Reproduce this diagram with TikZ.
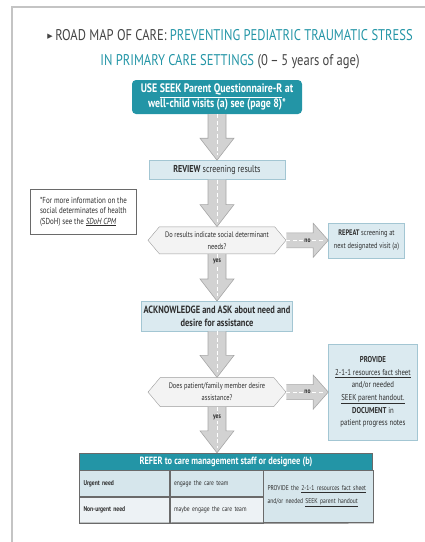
\documentclass[tikz,border=0pt]{standalone}
\usepackage{fontspec}
\setmainfont{PT Sans}[FakeStretch=0.8]
\newfontfamily\titlefont{PT Sans}[FakeStretch=0.81]
\newfontfamily\symfont{DejaVu Sans}
\usepackage{tikz}
\usetikzlibrary{shapes,positioning,calc}

\definecolor{teal1}{HTML}{2395A6}
\definecolor{titlegray}{HTML}{444444}
\definecolor{textgray}{HTML}{2E2E2E}
\definecolor{boxfill}{HTML}{DBEAF0}
\definecolor{boxline}{HTML}{A3C6D3}
\definecolor{arrowfill}{HTML}{D2D2D2}
\definecolor{arrowline}{HTML}{A6A6A6}
\definecolor{hexfill}{HTML}{F3F3F3}
\definecolor{hexline}{HTML}{9C9C9C}
\definecolor{framegray}{HTML}{C4C4C4}
\definecolor{cellblue}{HTML}{D6E6EC}
\definecolor{celllight}{HTML}{EDF2F5}
\definecolor{tabline}{HTML}{6A6A6A}

% block arrow downwards, from a node to the node below
\newcommand{\downblock}[2]{%
  \coordinate (ds) at (#1.south);
  \coordinate (dt) at (#1.south |- #2.north);
  \filldraw[blockarrow] ($(ds)+(-9,0)$) -- ($(dt)+(-9,22)$) -- ($(dt)+(-17,22)$) -- (dt)
    -- ($(dt)+(17,22)$) -- ($(dt)+(9,22)$) -- ($(ds)+(9,0)$);
  \draw[midline] (ds) -- ($(dt)+(0,5)$);
}
% block arrow to the right
\newcommand{\rightblock}[2]{%
  \coordinate (rs) at (#1.east);
  \coordinate (rt) at (#1.east -| #2.west);
  \filldraw[blockarrow] ($(rs)+(0,7.5)$) -- ($(rt)+(-15,7.5)$) -- ($(rt)+(-15,17)$) -- (rt)
    -- ($(rt)+(-15,-17)$) -- ($(rt)+(-15,-7.5)$) -- ($(rs)+(0,-7.5)$);
  \draw[midline] (rs) -- ($(rt)+(-4,0)$);
}

\begin{document}
\begin{tikzpicture}[
    x=1pt, y=1pt,
    stepbox/.style={rectangle, draw=boxline, fill=boxfill, text=textgray, align=center, inner sep=2pt},
    topbox/.style={rectangle, fill=teal1, rounded corners=4pt, text=white, align=center, minimum width=170pt, minimum height=34pt, font=\fontsize{12.3}{14.5}\selectfont\bfseries},
    decision/.style={signal, signal to=west and east, signal pointer angle=100, draw=hexline, fill=hexfill, text=textgray, align=center, inner xsep=1pt, minimum width=138pt, font=\fontsize{8}{12}\selectfont},
    blockarrow/.style={fill=arrowfill, draw=arrowline, line width=0.6pt},
    midline/.style={white, dashed, dash pattern=on 4pt off 2.5pt, line width=0.6pt},
    flowlabel/.style={fill=arrowfill, inner sep=1pt, text=textgray, font=\fontsize{7}{8}\selectfont\bfseries},
    cell/.style={rectangle, draw=tabline, line width=0.5pt, text=textgray, align=left, inner xsep=4pt, inner ysep=1pt, minimum height=26pt, font=\fontsize{7}{13}\selectfont},
    label/.style={font=\fontsize{8.7}{10.5}\selectfont}
]
\useasboundingbox (0,0) rectangle (425,-542);

% frame
\draw[framegray, line width=1.8pt] (12,-542) -- (12,-7) -- (425,-7);

% Title
\node[align=center, text=titlegray, font=\titlefont\fontsize{15.5}{25.5}\selectfont] (title) at (230,-49)
  {\raisebox{2pt}{\symfont\fontsize{7}{8}\selectfont ▶}\,ROAD MAP OF CARE: \textcolor{teal1}{PREVENTING PEDIATRIC TRAUMATIC STRESS}\\
   \textcolor{teal1}{IN PRIMARY CARE SETTINGS} (0\,–\,5 years of age)};

% Screening tool
\node[topbox] (usetool) at (217,-97) {USE \underline{SEEK Parent Questionnaire-R} at\\well-child visits (a) see (page 8)*};

% Review
\node[stepbox, below=46pt of usetool, minimum width=136pt, minimum height=19pt, font=\fontsize{10}{12}\selectfont] (review) {\textbf{REVIEW} screening results};

% Footnote
\node[rectangle, draw=tabline, line width=0.7pt, text=textgray, align=left, label, inner xsep=3pt, minimum width=106pt, minimum height=45pt,
      below left=9pt and 12pt of review.south west, anchor=north east] (sdohnote)
  {*For more information on the\\social determinates of health\\(SDoH) see the \underline{\textit{SDoH CPM}}};

% First decision
\node[decision, below=47pt of review, minimum height=27pt] (results) {Do results indicate social determinant\\needs?};

\node[stepbox, right=42pt of results, minimum width=76pt, minimum height=35pt, font=\fontsize{8}{13}\selectfont] (repeatvisit)
  {\textbf{REPEAT} screening at\\next designated visit (a)};

% Acknowledge
\node[stepbox, below=47pt of results, minimum width=151pt, minimum height=30pt, font=\fontsize{10.5}{12.5}\selectfont\bfseries] (acknowledge)
  {ACKNOWLEDGE and ASK about need and\\desire for assistance};

% Second decision
\node[decision, below=46pt of acknowledge, minimum height=29pt] (desire) {Does patient/family member desire\\assistance?};

\node[stepbox, right=42pt of desire, minimum width=89pt, minimum height=96pt, font=\fontsize{8.5}{12.6}\selectfont] (provide)
  {\textbf{PROVIDE}\\\underline{2-1-1 resources fact sheet}\\and/or needed\\\underline{SEEK parent handout.}\\\textbf{DOCUMENT} in\\patient progress notes};

% Referral table
\node[rectangle, fill=teal1, draw=tabline, line width=0.5pt, text=white, minimum width=293pt, minimum height=17pt,
      below=46pt of desire, xshift=9pt, font=\fontsize{10.5}{12}\selectfont\bfseries] (refer)
  {REFER to care management staff or designee (b)};
\node[cell, fill=cellblue, text width=82pt, anchor=north west] (urgent) at (refer.south west) {\textbf{Urgent need}};
\node[cell, fill=cellblue, text width=85pt, anchor=north west] (urgentact) at (urgent.north east) {engage the care team};
\node[cell, fill=celllight, text width=82pt, anchor=north west] (nonurgent) at (urgent.south west) {\textbf{Non-urgent need}};
\node[cell, fill=celllight, text width=85pt, anchor=north west] (nonurgentact) at (urgentact.south west) {maybe engage the care team};
\node[cell, fill=cellblue, text width=102pt, minimum height=52pt, anchor=north west] (providesheet) at (urgentact.north east)
  {PROVIDE the \underline{2-1-1 resources fact sheet}\\and/or needed \underline{SEEK parent handout}};
\draw[tabline, line width=1.3pt] (nonurgent.south west) -- (providesheet.south east);

% Arrows
\downblock{usetool}{review}
\downblock{review}{results}
\downblock{results}{acknowledge}
\downblock{acknowledge}{desire}
\downblock{desire}{refer}
\rightblock{results}{repeatvisit}
\rightblock{desire}{provide}

% Arrow labels
\node[flowlabel, below=4pt of results] (yesone) {yes};
\node[flowlabel, below=7pt of desire] (yestwo) {yes};
\node[flowlabel, right=17pt of results] (noone) {no};
\node[flowlabel, right=17pt of desire] (notwo) {no};

\end{tikzpicture}
\end{document}
